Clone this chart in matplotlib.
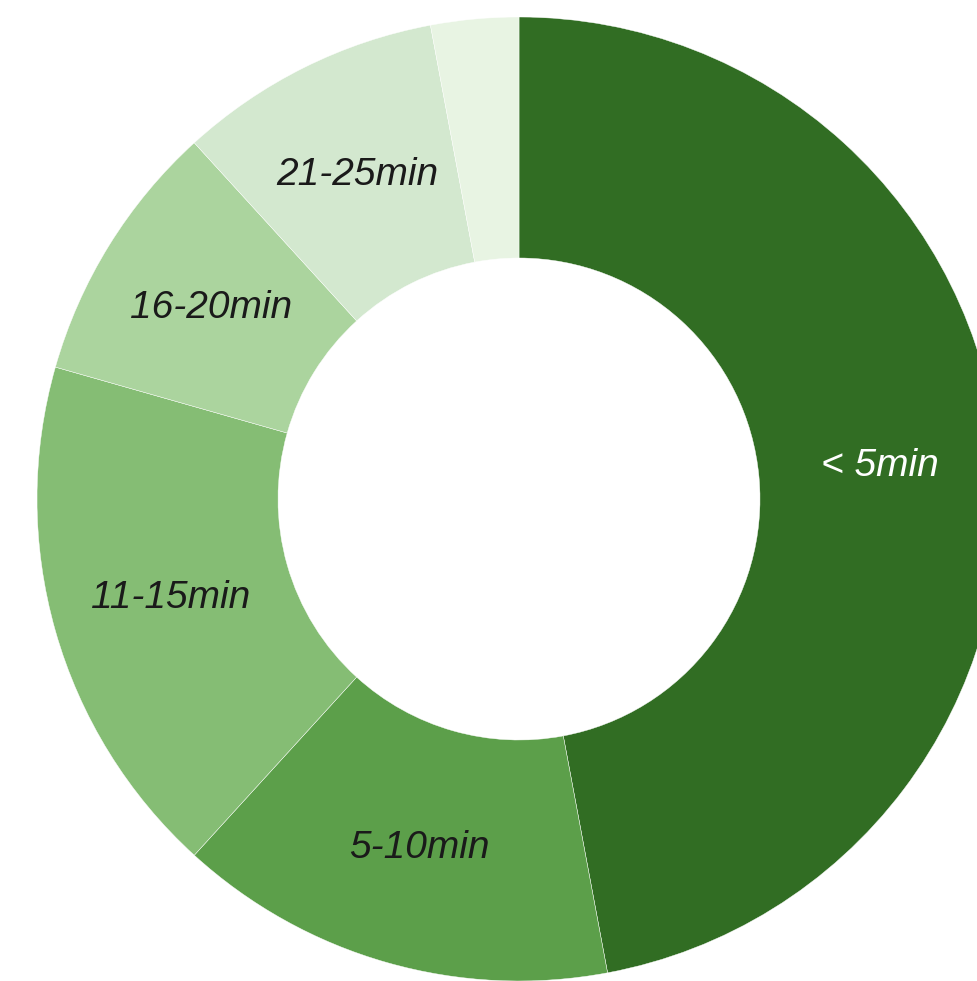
import matplotlib
matplotlib.use("Agg")
import matplotlib.pyplot as plt
import numpy as np

# response counts per commute-time bucket
categories = ["< 5min", "5-10min", "11-15min", "16-20min", "21-25min", "26-30min"]
counts = [16, 5, 6, 3, 3, 1]
colors = ["#316d23", "#5c9f4a", "#85bd74", "#abd49e", "#d3e8cf", "#e8f4e3"]
label_colors = ["white", "#1a1a1a", "#1a1a1a", "#1a1a1a", "#1a1a1a", "#1a1a1a"]

W, H = 978, 981
CX, CY, R = 519, 499, 482  # centre and outer radius in pixels

fig = plt.figure(figsize=(W / 100, H / 100), dpi=100)
ax = fig.add_axes([0, 0, 1, 1])
ax.pie(
    counts,
    colors=colors,
    startangle=90,
    counterclock=False,
    radius=1.0,
    wedgeprops=dict(width=0.5, edgecolor="white", linewidth=0.3),
)

total = sum(counts)
start = 90.0
for name, val, tc in zip(categories, counts, label_colors):
    frac = val / total
    mid = np.deg2rad(start - frac * 360 / 2)
    start -= frac * 360
    if frac < 0.05:
        continue  # too thin for a label
    ax.text(0.752 * np.cos(mid), 0.752 * np.sin(mid), name,
            ha="center", va="center", fontsize=28, style="italic",
            family=["Liberation Sans", "DejaVu Sans"], color=tc)

ax.set_xlim(-CX / R, (W - CX) / R)
ax.set_ylim(-(H - CY) / R, CY / R)
ax.set_aspect("auto")
ax.axis("off")
fig.savefig("out.png", dpi=100, facecolor="white")
